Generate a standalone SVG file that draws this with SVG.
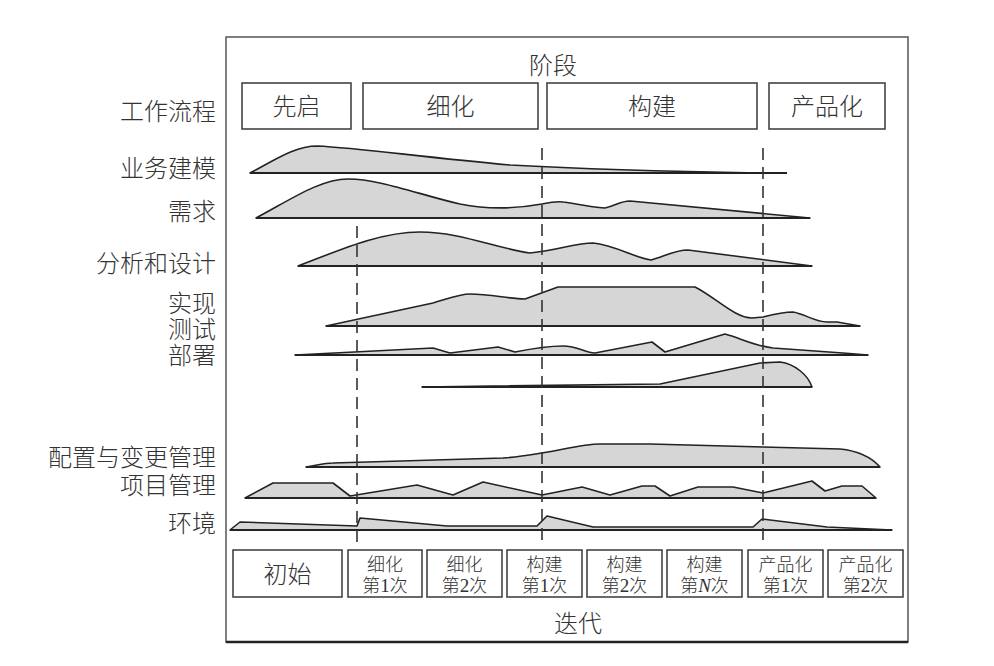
<svg xmlns="http://www.w3.org/2000/svg" width="994" height="666" viewBox="0 0 994 666">
<style>
.t{font-family:"Noto Sans CJK SC","Noto Sans CJK JP",sans-serif;fill:#333;font-size:24px;font-weight:300}
.s{font-size:18px}
.n{font-family:"Liberation Serif",serif;font-size:19px}
.box{fill:#fff;stroke:#444;stroke-width:1.6}
.lane{fill:#d6d6d6;stroke:#222;stroke-width:1.6;stroke-linejoin:round}
.base{stroke:#222;stroke-width:1.8}
.dash{stroke:#333;stroke-width:1.6;stroke-dasharray:12 7;fill:none}
</style>
<rect width="994" height="666" fill="#fff"/>
<g id="frame">
<rect x="226" y="37" width="682" height="605" fill="none" stroke="#555" stroke-width="1.5"/>
<line x1="226" y1="642" x2="908" y2="642" stroke="#222" stroke-width="2.5"/>
</g>
<g id="labels" class="t" text-anchor="end">
<text x="216" y="120">工作流程</text>
<text x="216" y="177">业务建模</text>
<text x="216" y="220">需求</text>
<text x="216" y="272">分析和设计</text>
<text x="216" y="312">实现<tspan x="216" dy="26">测试</tspan><tspan x="216" dy="26">部署</tspan></text>
<text x="216" y="466">配置与变更管理</text>
<text x="216" y="494">项目管理</text>
<text x="216" y="532">环境</text>
</g>
<g id="phase-title"><text class="t" x="553" y="74" text-anchor="middle">阶段</text></g>
<g id="phase-inception"><rect class="box" x="242" y="83" width="109" height="46"/><text class="t" x="296.5" y="115" text-anchor="middle">先启</text></g>
<g id="phase-elaboration"><rect class="box" x="363" y="83" width="175" height="46"/><text class="t" x="450.5" y="115" text-anchor="middle">细化</text></g>
<g id="phase-construction"><rect class="box" x="547" y="83" width="210" height="46"/><text class="t" x="652" y="115" text-anchor="middle">构建</text></g>
<g id="phase-transition"><rect class="box" x="769" y="83" width="116" height="46"/><text class="t" x="827" y="115" text-anchor="middle">产品化</text></g>
<g id="lanes">
<g id="lane-business-modeling">
<path class="lane" d="M250,173 C275,160 295,146 317,146 C360,148 420,157 510,165 C600,170 700,172 760,173 Z"/>
<line class="base" x1="250" y1="173" x2="787" y2="173"/>
</g>
<g id="lane-requirements">
<path class="lane" d="M256,218 C290,200 320,179 348,179 C380,179 420,195 460,204 C490,210 520,208 542,204 C552,202 557,201 563,202 C580,204 595,208 605,208 C615,206 620,201 630,201 L810,218 Z"/>
<line class="base" x1="256" y1="218" x2="810" y2="218"/>
</g>
<g id="lane-analysis-design">
<path class="lane" d="M298,266 C340,250 380,232 420,232 C460,232 495,248 530,253 C560,250 575,243 593,243 C615,245 635,258 651,260 C665,256 675,250 688,250 L812,266 Z"/>
<line class="base" x1="298" y1="266" x2="812" y2="266"/>
</g>
<g id="lane-implementation">
<path class="lane" d="M326,326 L433,303 C450,298 460,294 470,294 C490,294 510,299 525,299 L558,287 L695,287 C715,297 735,318 752,318 L763,317 C775,314 785,312 793,312 C805,314 815,322 827,322 L837,322 L860,326 Z"/>
<line class="base" x1="326" y1="326" x2="860" y2="326"/>
</g>
<g id="lane-test">
<path class="lane" d="M295,355 L433,348 L450,353 L498,347 L515,352 C535,348 550,346 563,346 C578,346 585,353 595,353 L652,342 L665,352 L725,334 C740,338 755,346 773,348 L843,353 L868,355 Z"/>
<line class="base" x1="295" y1="355" x2="868" y2="355"/>
</g>
<g id="lane-deployment">
<path class="lane" d="M422,387 L660,384 L760,363 L780,362 C795,364 808,375 812,387 Z"/>
<line class="base" x1="422" y1="387" x2="812" y2="387"/>
</g>
<g id="lane-config-change">
<path class="lane" d="M306,467 C318,465 325,463 333,463 L503,458 C520,457 530,455 542,453 C570,448 585,444 600,444 L650,444 L763,447 L840,449 C860,451 872,458 880,467 Z"/>
<line class="base" x1="306" y1="467" x2="880" y2="467"/>
</g>
<g id="lane-project-mgmt">
<path class="lane" d="M245,498 L273,483 L333,483 L350,496 L417,485 L453,495 L483,482 L542,495 L582,487 L610,495 L642,486 L655,486 L670,496 L698,487 L733,487 L763,493 L812,481 L825,491 L842,486 L862,486 L876,498 Z"/>
<line class="base" x1="245" y1="498" x2="876" y2="498"/>
</g>
<g id="lane-environment">
<path class="lane" d="M230,530 L240,522 L357,526 L360,518 L447,526 L537,526 L547,516 L593,527 L753,527 L762,519 L827,527 L892,530 Z"/>
<line class="base" x1="230" y1="530" x2="892" y2="530"/>
</g>
</g>
<g id="connectors">
<line class="dash" x1="357" y1="226" x2="357" y2="545"/>
<line class="dash" x1="542" y1="148" x2="542" y2="545"/>
<line class="dash" x1="763" y1="148" x2="763" y2="545"/>
</g>
<g id="iter-initial"><rect class="box" x="233" y="550" width="109" height="47"/><text class="t" x="287.5" y="583" text-anchor="middle">初始</text></g>
<g id="iter-e1"><rect class="box" x="348" y="550" width="74" height="47"/><text class="t s" x="385" y="571" text-anchor="middle">细化<tspan x="385" dy="21">第<tspan class="n">1</tspan>次</tspan></text></g>
<g id="iter-e2"><rect class="box" x="427" y="550" width="75" height="47"/><text class="t s" x="464.5" y="571" text-anchor="middle">细化<tspan x="464.5" dy="21">第<tspan class="n">2</tspan>次</tspan></text></g>
<g id="iter-c1"><rect class="box" x="507" y="550" width="75" height="47"/><text class="t s" x="544.5" y="571" text-anchor="middle">构建<tspan x="544.5" dy="21">第<tspan class="n">1</tspan>次</tspan></text></g>
<g id="iter-c2"><rect class="box" x="587" y="550" width="75" height="47"/><text class="t s" x="624.5" y="571" text-anchor="middle">构建<tspan x="624.5" dy="21">第<tspan class="n">2</tspan>次</tspan></text></g>
<g id="iter-cn"><rect class="box" x="667" y="550" width="75" height="47"/><text class="t s" x="704.5" y="571" text-anchor="middle">构建<tspan x="704.5" dy="21">第<tspan class="n" font-style="italic">N</tspan>次</tspan></text></g>
<g id="iter-t1"><rect class="box" x="748" y="550" width="75" height="47"/><text class="t s" x="785.5" y="571" text-anchor="middle">产品化<tspan x="785.5" dy="21">第<tspan class="n">1</tspan>次</tspan></text></g>
<g id="iter-t2"><rect class="box" x="828" y="550" width="75" height="47"/><text class="t s" x="865.5" y="571" text-anchor="middle">产品化<tspan x="865.5" dy="21">第<tspan class="n">2</tspan>次</tspan></text></g>
<g id="iter-title"><text class="t" x="578" y="632" text-anchor="middle">迭代</text></g>
</svg>
